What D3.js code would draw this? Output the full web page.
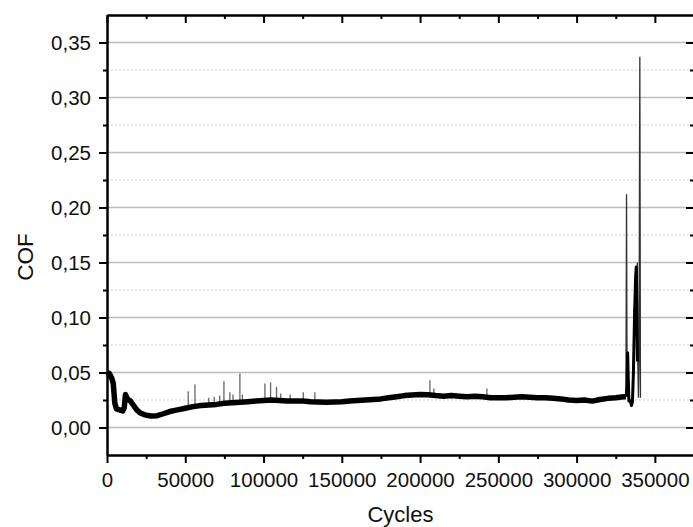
<!DOCTYPE html>
<html><head><meta charset="utf-8">
<script src="https://cdn.jsdelivr.net/npm/d3@7"></script>
<style>
body{margin:0;background:#fff;}
svg{display:block;font-family:"Liberation Sans",Arial,sans-serif;}
</style></head>
<body><svg id="c" width="693" height="527"></svg>
<script>
// ---- data ----
const bandCycles = [0,1500,3000,4000,5000,6000,8000,10000,11000,11800,13000,15000,17000,19000,21000,24000,28000,32000,36000,40000,45000,50000,55000,60000,65000,70000,75000,80000,85000,90000,95000,100000,105000,110000,115000,120000,125000,130000,135000,140000,145000,150000,155000,160000,165000,170000,175000,180000,185000,190000,195000,200000,205000,210000,215000,220000,225000,230000,235000,240000,245000,250000,255000,260000,265000,270000,275000,280000,285000,290000,295000,300000,305000,310000,315000,320000,325000,330000,331500];
const bandValues = [0.050,0.049,0.045,0.040,0.022,0.017,0.016,0.015,0.018,0.030,0.026,0.024,0.020,0.016,0.0135,0.0115,0.0105,0.0107,0.0125,0.0145,0.016,0.0175,0.019,0.020,0.0205,0.021,0.022,0.0225,0.023,0.0235,0.024,0.0245,0.025,0.0245,0.024,0.024,0.024,0.0235,0.0232,0.023,0.0232,0.0235,0.024,0.0245,0.025,0.0255,0.026,0.027,0.028,0.029,0.0295,0.030,0.0298,0.029,0.0285,0.029,0.0285,0.028,0.0285,0.028,0.027,0.027,0.027,0.0275,0.028,0.0275,0.027,0.027,0.0265,0.026,0.025,0.0245,0.025,0.024,0.0255,0.0265,0.027,0.028,0.028];

const spikeCycles = [51900,56200,65000,68500,72000,74700,78500,80500,84900,86500,100900,104500,108300,111000,117000,125400,132800,206300,208800,242700,257000];
const spikeValues = [0.033,0.039,0.027,0.028,0.029,0.042,0.032,0.030,0.049,0.030,0.040,0.041,0.037,0.031,0.030,0.032,0.032,0.043,0.0355,0.0355,0.030];

// thin trace of the failure zone
const endCycles = [331500,331900,332200,332500,332900,333300,334000,334800,335300,335800,336300,336700,337000,337300,337600,337900,338200,338500,338800,339100,339500,339900,340200,340400,340600,340800];
const endValues = [0.028,0.212,0.060,0.068,0.035,0.028,0.026,0.022,0.020,0.025,0.060,0.110,0.080,0.140,0.100,0.146,0.090,0.135,0.150,0.060,0.027,0.060,0.250,0.337,0.182,0.027];
// dense (dark) part of the failure zone
const darkCycles = [331800,332300,332600,333000,333400,334300,335100,335700,336300,337000,337600,338100,338500,338900];
const darkValues = [0.028,0.040,0.068,0.045,0.024,0.024,0.020,0.024,0.050,0.100,0.132,0.146,0.110,0.060];

const xTickValues = [0,50000,100000,150000,200000,250000,300000,350000];
const xMinorValues = [25000,75000,125000,175000,225000,275000,325000];
const yTickValues = [0,0.05,0.10,0.15,0.20,0.25,0.30,0.35];
const yMinorValues = [0.025,0.075,0.125,0.175,0.225,0.275,0.325];
const xTitle = "Cycles", yTitle = "COF";

// ---- layout ----
const L = 107, R = 694, T = 15, B = 455;
const svg = d3.select("#c");
const x = d3.scaleLinear().domain([0,375000]).range([L,R]);
const y = d3.scaleLinear().domain([-0.025,0.375]).range([B,T]);
const fmt = v => d3.format(".2f")(v).replace(".", ",");

// grid
svg.append("g").selectAll("line").data(yMinorValues).join("line")
  .attr("x1",L).attr("x2",R).attr("y1",d=>y(d)).attr("y2",d=>y(d))
  .attr("stroke","#cfcfcf").attr("stroke-width",1).attr("stroke-dasharray","2,2");
svg.append("g").selectAll("line").data(yTickValues).join("line")
  .attr("x1",L).attr("x2",R).attr("y1",d=>y(d)).attr("y2",d=>y(d))
  .attr("stroke","#bdbdbd").attr("stroke-width",1.5);

// band
const line = d3.line().x(d=>x(d[0])).y(d=>y(d[1]));
const band = bandCycles.map((c,i)=>[c,bandValues[i]]);
const bis = d3.bisector(d=>d[0]).left;
const baseAt = c => { const i = Math.max(1, bis(band,c)); return band[i][1]; };

svg.append("g").selectAll("line").data(spikeCycles).join("line")
  .attr("x1",d=>x(d)).attr("x2",d=>x(d))
  .attr("y1",d=>y(baseAt(d))).attr("y2",(d,i)=>y(spikeValues[i]))
  .attr("stroke","#666").attr("stroke-width",1.3);

svg.append("path").datum(band).attr("d",line)
  .attr("fill","none").attr("stroke","#000").attr("stroke-width",5.5).attr("stroke-linejoin","round");

svg.append("path").datum(endCycles.map((c,i)=>[c,endValues[i]])).attr("d",line)
  .attr("fill","none").attr("stroke","#333").attr("stroke-width",1.3).attr("stroke-linejoin","miter");
svg.append("path").datum(darkCycles.map((c,i)=>[c,darkValues[i]])).attr("d",line)
  .attr("fill","none").attr("stroke","#000").attr("stroke-width",3).attr("stroke-linejoin","round");

// axes
function style(g){
  g.select(".domain").attr("stroke","#000").attr("stroke-width",2);
  g.selectAll(".tick line").attr("stroke","#000").attr("stroke-width",2);
  g.selectAll(".tick text").attr("fill","#111").style("font-size","20.5px").style("font-family","Liberation Sans, Arial, sans-serif");
}
svg.append("g").attr("transform",`translate(0,${B})`)
  .call(d3.axisBottom(x).tickValues(xTickValues).tickFormat(d3.format("d")).tickSize(8).tickSizeOuter(0).tickPadding(9))
  .call(style);
svg.append("g").attr("transform",`translate(0,${B})`)
  .call(d3.axisBottom(x).tickValues(xMinorValues).tickFormat("").tickSize(4).tickSizeOuter(0)).call(style);
svg.append("g").attr("transform",`translate(0,${T})`)
  .call(d3.axisBottom(x).tickValues(xTickValues).tickFormat("").tickSize(8).tickSizeOuter(0)).call(style);
svg.append("g").attr("transform",`translate(0,${T})`)
  .call(d3.axisBottom(x).tickValues(xMinorValues).tickFormat("").tickSize(4).tickSizeOuter(0)).call(style);

svg.append("g").attr("transform",`translate(${L},0)`)
  .call(d3.axisLeft(y).tickValues(yTickValues).tickFormat(fmt).tickSize(8).tickSizeOuter(0).tickPadding(8))
  .call(style);
svg.append("g").attr("transform",`translate(${L},0)`)
  .call(d3.axisLeft(y).tickValues(yMinorValues).tickFormat("").tickSize(4).tickSizeOuter(0)).call(style);
svg.append("g").attr("transform",`translate(${R},0)`)
  .call(d3.axisLeft(y).tickValues(yTickValues).tickFormat("").tickSize(8).tickSizeOuter(0)).call(style);
svg.append("g").attr("transform",`translate(${R},0)`)
  .call(d3.axisLeft(y).tickValues(yMinorValues).tickFormat("").tickSize(4).tickSizeOuter(0)).call(style);

// titles
svg.append("text").attr("x",(L+R)/2).attr("y",522).attr("text-anchor","middle")
  .attr("fill","#111").style("font-size","22px").text(xTitle);
svg.append("text").attr("transform","translate(33,257) rotate(-90)").attr("text-anchor","middle")
  .attr("fill","#111").style("font-size","22.5px").text(yTitle);
</script></body></html>
